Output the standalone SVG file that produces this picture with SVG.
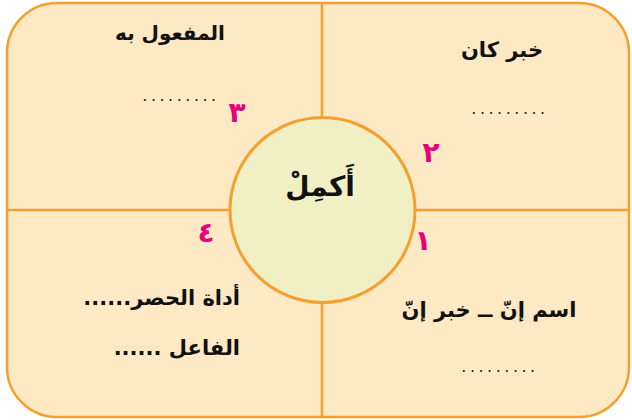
<svg xmlns="http://www.w3.org/2000/svg" width="632" height="420" viewBox="0 0 632 420">
<style>
.box{fill:#FDE9C3;stroke:#F5A02E;stroke-width:2.5}
.ln{stroke:#F5A02E;stroke-width:2.5;fill:none}
.circ{fill:#F0F0C4;stroke:#F5A02E;stroke-width:3}
.t{font-family:"DejaVu Sans",sans-serif;font-weight:bold;fill:#111;font-size:20px}
.d{font-family:"DejaVu Sans",sans-serif;fill:#222;font-size:16px;letter-spacing:3.5px}
.n{font-family:"DejaVu Sans",sans-serif;font-weight:bold;fill:#E6007E;font-size:28px}
</style>
<rect id="frame" class="box" x="7" y="3" width="622" height="414" rx="50" ry="50"/>
<g id="connectors">
<line class="ln" x1="322" y1="3" x2="322" y2="417"/>
<line class="ln" x1="7" y1="210" x2="629" y2="210"/>
</g>
<g id="center">
<circle class="circ" cx="322.5" cy="210" r="92.5"/>
<text class="t" x="320" y="196" text-anchor="middle" direction="rtl" style="font-size:28px">أَكمِلْ</text>
</g>
<g id="q1">
<text class="t" x="489" y="317" text-anchor="middle" direction="rtl" style="font-size:21px">اسم إنّ ــ خبر إنّ</text>
<text class="d" x="500" y="372" text-anchor="middle">.........</text>
<text class="n" x="423" y="250" text-anchor="middle">١</text>
</g>
<g id="q2">
<text class="t" x="502" y="57" text-anchor="middle" direction="rtl" style="font-size:21px">خبر كان</text>
<text class="d" x="510" y="114" text-anchor="middle">.........</text>
<text class="n" x="431" y="162" text-anchor="middle">٢</text>
</g>
<g id="q3">
<text class="t" x="170" y="40" text-anchor="middle" direction="rtl">المفعول به</text>
<text class="d" x="181" y="101" text-anchor="middle">.........</text>
<text class="n" x="237" y="122" text-anchor="middle">٣</text>
</g>
<g id="q4">
<text class="t" x="240" y="305" text-anchor="start" direction="rtl" style="font-size:21px">أداة الحصر......</text>
<text class="t" x="240" y="355" text-anchor="start" direction="rtl" style="font-size:21px">الفاعل ......</text>
<text class="n" x="206" y="242" text-anchor="middle">٤</text>
</g>
</svg>
